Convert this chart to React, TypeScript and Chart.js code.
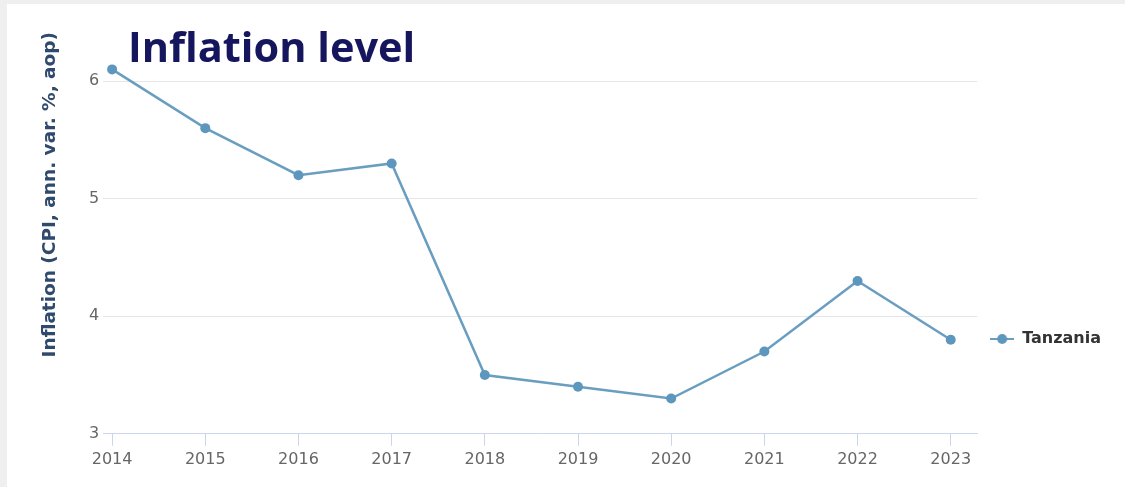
import React, { useEffect, useRef } from "react";
import { Chart, registerables } from "chart.js";

Chart.register(...registerables);

const years: number[] = [2014, 2015, 2016, 2017, 2018, 2019, 2020, 2021, 2022, 2023];
const yearLabels: string[] = ["2014", "2015", "2016", "2017", "2018", "2019", "2020", "2021", "2022", "2023"];
const inflation: number[] = [6.1, 5.6, 5.2, 5.3, 3.5, 3.4, 3.3, 3.7, 4.3, 3.8];
const yTicks: number[] = [3, 4, 5, 6];
const seriesName = "Tanzania";
const chartTitle = "Inflation level";
const yAxisTitle = "Inflation (CPI, ann. var. %, aop)";

const LINE_COLOR = "#6a9ec1";
const POINT_COLOR = "#5e97bd";

export default function App() {
  const canvasRef = useRef<HTMLCanvasElement | null>(null);

  useEffect(() => {
    const canvas = canvasRef.current;
    if (!canvas) return;

    const marker = document.createElement("canvas");
    marker.width = 24;
    marker.height = 12;
    const mctx = marker.getContext("2d")!;
    mctx.strokeStyle = LINE_COLOR;
    mctx.lineWidth = 2;
    mctx.beginPath();
    mctx.moveTo(0, 6);
    mctx.lineTo(24, 6);
    mctx.stroke();
    mctx.fillStyle = POINT_COLOR;
    mctx.beginPath();
    mctx.arc(12, 6, 5, 0, Math.PI * 2);
    mctx.fill();

    const chart = new Chart(canvas, {
      type: "line",
      data: {
        datasets: [
          {
            label: seriesName,
            data: years.map((x, i) => ({ x, y: inflation[i] })),
            borderColor: LINE_COLOR,
            backgroundColor: POINT_COLOR,
            borderWidth: 2.5,
            pointRadius: 5,
            pointBackgroundColor: POINT_COLOR,
            pointBorderColor: POINT_COLOR,
            pointBorderWidth: 0,
            tension: 0,
            fill: false,
          },
        ],
      },
      options: {
        animation: false,
        responsive: false,
        maintainAspectRatio: false,
        layout: { padding: { left: 31.7, right: 14, top: 28, bottom: 14 } },
        plugins: {
          tooltip: { enabled: false },
          legend: {
            position: "right",
            align: "start",
            title: {
              display: true,
              text: "",
              font: { size: 12 },
              padding: { top: 271.6, bottom: 0 },
            },
            labels: {
              usePointStyle: true,
              pointStyle: marker as any,
              pointStyleWidth: 24,
              padding: 13,
              color: "#333333",
              font: { family: "DejaVu Sans", size: 16, weight: "bold" },
            },
          },
        },
        scales: {
          x: {
            type: "linear",
            min: 2013.903,
            max: 2023.284,
            afterBuildTicks: (scale: any) => {
              scale.ticks = years.map((v) => ({ value: v }));
            },
            ticks: {
              autoSkip: false,
              maxRotation: 0,
              padding: 4,
              color: "#666666",
              font: { family: "DejaVu Sans", size: 16 },
              callback: (v: any) => {
                const i = years.indexOf(Number(v));
                return i >= 0 ? yearLabels[i] : "";
              },
            },
            grid: {
              drawOnChartArea: false,
              drawTicks: true,
              tickLength: 12,
              color: "#ccd6eb",
            },
            border: { display: true, color: "#ccd6eb", width: 1 },
          },
          y: {
            type: "linear",
            min: 3,
            max: 6.418,
            afterBuildTicks: (scale: any) => {
              scale.ticks = yTicks.map((v) => ({ value: v }));
            },
            ticks: {
              padding: 4,
              color: "#666666",
              font: { family: "DejaVu Sans", size: 16 },
              callback: (v: any) => String(v),
            },
            grid: {
              drawTicks: false,
              color: (ctx: any) => (ctx.tick && ctx.tick.value === 3 ? "#ccd6eb" : "#e6e6e6"),
              lineWidth: 1,
            },
            border: { display: false },
            title: {
              display: true,
              text: yAxisTitle,
              align: "end",
              color: "#2f4a6c",
              font: { family: "DejaVu Sans", size: 18.5, weight: "bold" },
              padding: { top: 0, bottom: 24 },
            },
          },
        },
      },
    });

    return () => {
      chart.destroy();
    };
  }, []);

  return (
    <div
      style={{
        position: "fixed",
        left: 0,
        top: 0,
        width: 1125,
        height: 487,
        background: "#efefef",
        overflow: "hidden",
      }}
    >
      <div
        style={{
          position: "absolute",
          left: 7,
          top: 4,
          width: 1118,
          height: 483,
          background: "#ffffff",
        }}
      >
        <canvas ref={canvasRef} width={1118} height={483} style={{ width: 1118, height: 483, display: "block" }} />
      </div>
      <div
        style={{
          position: "absolute",
          left: 128,
          top: 26,
          fontFamily: "'Open Sans', sans-serif",
          fontWeight: 700,
          fontSize: 41.5,
          lineHeight: 1,
          color: "#16165e",
          whiteSpace: "nowrap",
        }}
      >
        {chartTitle}
      </div>
    </div>
  );
}
